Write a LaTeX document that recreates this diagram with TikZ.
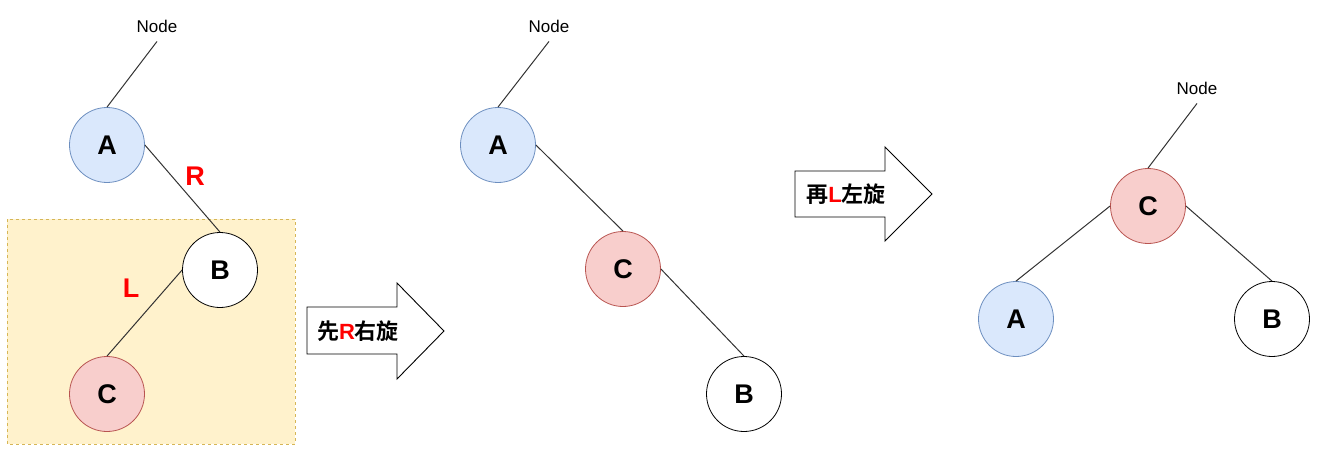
\documentclass[tikz,border=0pt]{standalone}
\usepackage{fontspec}
\setmainfont{Liberation Sans}
\newfontfamily\cjk{Noto Sans CJK SC}[BoldFont={Noto Sans CJK SC Bold}]
\definecolor{blueFill}{HTML}{DAE8FC}
\definecolor{blueLine}{HTML}{6C8EBF}
\definecolor{redFill}{HTML}{F8CECC}
\definecolor{redLine}{HTML}{B85450}
\definecolor{boxFill}{HTML}{FFF2CC}
\definecolor{boxLine}{HTML}{D6B656}
\definecolor{edgeCol}{HTML}{333333}
\begin{document}
\begin{tikzpicture}[x=1pt,y=-1pt,
  treenode/.style={circle,draw,line width=0.8pt,minimum size=75pt,inner sep=0pt,
    font=\fontsize{27}{29}\selectfont\bfseries},
  nodeA/.style={treenode,fill=blueFill,draw=blueLine},
  nodeB/.style={treenode,fill=white,draw=black},
  nodeC/.style={treenode,fill=redFill,draw=redLine},
  edge/.style={draw=edgeCol,line width=1pt},
  rootlabel/.style={font=\fontsize{17}{19}\selectfont,inner sep=0pt},
  sidelabel/.style={text=red,font=\fontsize{27}{29}\selectfont\bfseries,inner sep=0pt},
  arrowbox/.style={draw=black,fill=white,line width=0.9pt},
  arrowtext/.style={font=\fontsize{22}{24}\selectfont\bfseries,inner sep=0pt}
]
\useasboundingbox (0,0) rectangle (1318,452);

% sub-tree being rotated first
\draw[boxLine,fill=boxFill,dashed,line width=0.8pt] (7,219) rectangle (295,444);

% ---- initial tree ----
\node[rootlabel] (n1) at (157,26) {Node};
\node[nodeA] (a1) at (107,145) {A};
\node[nodeB] (b1) at (220,270) {B};
\node[nodeC] (c1) at (107,394) {C};
\draw[edge] ([yshift=-9pt]n1.south) -- (a1.north);
\draw[edge] (a1.east) -- (b1.north);
\draw[edge] (b1.west) -- (c1.north);
\node[sidelabel] (lr) at (195,176) {R};
\node[sidelabel] (ll) at (131,288) {L};

% ---- first rotation arrow ----
\draw[arrowbox] (307,307) -- (397,307) -- (397,283) -- (444,331) -- (397,379) -- (397,354) -- (307,354) -- cycle;
\node[arrowtext] (t1) at (358,331) {{\cjk 先}\textcolor{red}{R}{\cjk 右旋}};

% ---- after right rotation ----
\node[rootlabel] (n2) at (549,26) {Node};
\node[nodeA] (a2) at (498,145) {A};
\node[nodeC] (c2) at (623,269) {C};
\node[nodeB] (b2) at (744,394) {B};
\draw[edge] ([yshift=-9pt]n2.south) -- (a2.north);
\draw[edge] (a2.east) -- (c2.north);
\draw[edge] (c2.east) -- (b2.north);

% ---- second rotation arrow ----
\draw[arrowbox] (795,171) -- (885,171) -- (885,147) -- (932,194) -- (885,241) -- (885,217) -- (795,217) -- cycle;
\node[arrowtext] (t2) at (846,194) {{\cjk 再}\textcolor{red}{L}{\cjk 左旋}};

% ---- after left rotation ----
\node[rootlabel] (n3) at (1197,88) {Node};
\node[nodeC] (c3) at (1148,206) {C};
\node[nodeA] (a3) at (1016,319) {A};
\node[nodeB] (b3) at (1272,319) {B};
\draw[edge] ([yshift=-9pt]n3.south) -- (c3.north);
\draw[edge] (c3.west) -- (a3.north);
\draw[edge] (c3.east) -- (b3.north);
\end{tikzpicture}
\end{document}
